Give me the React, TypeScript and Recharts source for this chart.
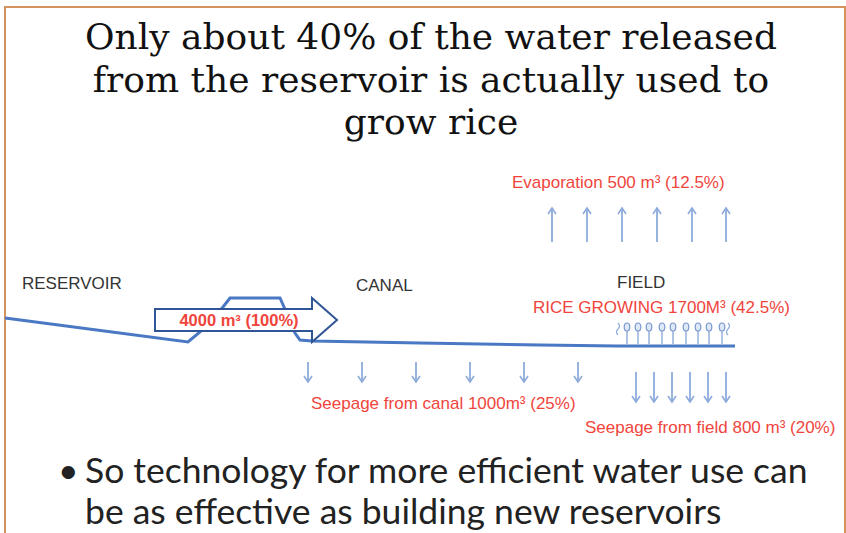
import React from "react";
import {
  ComposedChart,
  XAxis,
  YAxis,
  Line,
  Scatter,
  ReferenceLine,
} from "recharts";

// ground profile: reservoir slope, dam, canal, field
const groundX = [5, 188, 200, 223, 230, 280, 284, 295, 300, 312, 420, 540, 617, 735];
const groundY = [318, 342, 332, 307, 298, 298, 307, 333, 340, 341, 343, 345, 346, 346];

// arrows (x, from y, to y)
const evapX = [552, 587, 622, 657, 692, 726];
const evapFrom = 242;
const evapTo = 208;
const canalX = [308, 362, 416, 470, 524, 578];
const canalFrom = 362;
const canalTo = 382;
const fieldX = [636, 654, 672, 690, 708, 726];
const fieldFrom = 372;
const fieldTo = 402;

// rice plants
const plantX = [618, 627, 638, 649, 662, 673, 686, 698, 709, 722, 728];
const plantTop = 327;
const plantBase = 344;

// flow arrow
const flowArrow = [{ x: 155, y: 320, label: "4000 m³ (100%)" }];

const places = ["RESERVOIR", "CANAL", "FIELD"];
const placeX = [22, 356, 617];
const placeY = [283, 285, 282];

const flows = [
  "Evaporation 500 m³ (12.5%)",
  "RICE GROWING 1700M³ (42.5%)",
  "Seepage from canal 1000m³ (25%)",
  "Seepage from field 800 m³ (20%)",
];
const flowX = [512, 533, 311, 585];
const flowY = [182, 307, 403, 427];

const titleLines = [
  "Only about 40% of the water released",
  "from the reservoir is actually used to",
  "grow rice",
];
const bulletLines = [
  "So technology for more efficient water use can",
  "be as effective as building new reservoirs",
];

const ground = groundX.map((x, i) => ({ x, y: groundY[i] }));
const plants = plantX.map((x, i) => ({
  x,
  y: plantTop,
  base: plantBase,
  end: i === 0 || i === plantX.length - 1,
}));
const placeLabels = places.map((t, i) => ({ x: placeX[i], y: placeY[i], t }));
const flowLabels = flows.map((t, i) => ({ x: flowX[i], y: flowY[i], t }));

const BLUE = "#4a78c4";
const LIGHT = "#8dabda";
const RED = "#f0453c";
const LABEL_FONT = "'Liberation Sans', Arial, sans-serif";

const ArrowShape = (p: any) => {
  const { x1, y1, x2, y2 } = p;
  const d = Math.sign(y2 - y1);
  return (
    <g>
      <line x1={x1} y1={y1} x2={x2} y2={y2} stroke={LIGHT} strokeWidth={1.8} />
      <path
        d={`M${x2 - 4},${y2 - 6 * d} L${x2},${y2} L${x2 + 4},${y2 - 6 * d}`}
        fill="none"
        stroke={LIGHT}
        strokeWidth={1.6}
      />
    </g>
  );
};

const PlantShape = (p: any) => {
  const { cx, cy, payload } = p;
  const h = payload.base - payload.y;
  if (payload.end) {
    return (
      <path
        d={`M${cx},${cy + 8} q-3,-3 0,-6 q3,-3 0,-6`}
        fill="none"
        stroke={LIGHT}
        strokeWidth={1.2}
      />
    );
  }
  return (
    <g>
      <line x1={cx} y1={cy} x2={cx} y2={cy + h} stroke={LIGHT} strokeWidth={1.4} />
      <ellipse cx={cx} cy={cy} rx={2.8} ry={4} fill="#dfe8f6" stroke="#7898cf" strokeWidth={1.2} />
    </g>
  );
};

const BlockArrow = (p: any) => {
  const { cx, cy, payload } = p;
  const x0 = cx;
  const pts = [
    [x0, cy - 11],
    [x0 + 157, cy - 11],
    [x0 + 157, cy - 22],
    [x0 + 182, cy],
    [x0 + 157, cy + 22],
    [x0 + 157, cy + 11],
    [x0, cy + 11],
  ]
    .map((q) => q.join(","))
    .join(" ");
  return (
    <g>
      <polygon points={pts} fill="#fff" stroke="#2f5597" strokeWidth={2} />
      <text
        x={x0 + 84}
        y={cy + 6}
        textAnchor="middle"
        fontFamily={LABEL_FONT}
        fontWeight="bold"
        fontSize={16.5}
        fill={RED}
      >
        {payload.label}
      </text>
    </g>
  );
};

const TextShape = (color: string) => (p: any) => (
  <text x={p.cx} y={p.cy + 6} fontFamily={LABEL_FONT} fontSize={17} fill={color}>
    {p.payload.t}
  </text>
);

export default function App() {
  return (
    <div
      style={{
        position: "absolute",
        left: 0,
        top: 0,
        width: 846,
        height: 533,
        background: "#fff",
        overflow: "hidden",
      }}
    >
      <div
        style={{
          position: "absolute",
          left: 4,
          top: 6,
          width: 838,
          height: 540,
          borderLeft: "2px solid #d4935c",
          borderTop: "2px solid #d4935c",
          borderRight: "2px solid #d4935c",
        }}
      />
      <div
        style={{
          position: "absolute",
          left: 0,
          top: 16,
          width: 862,
          textAlign: "center",
          fontFamily: "'DejaVu Serif', serif",
          fontSize: 36,
          lineHeight: "42.5px",
          color: "#111",
          whiteSpace: "nowrap",
        }}
      >
        {titleLines.map((l) => (
          <div key={l}>{l}</div>
        ))}
      </div>
      <div style={{ position: "absolute", left: 0, top: 0 }}>
        <ComposedChart
          width={846}
          height={533}
          margin={{ top: 0, right: 0, bottom: 0, left: 0 }}
        >
          <XAxis type="number" dataKey="x" domain={[0, 846]} allowDataOverflow hide />
          <YAxis type="number" domain={[0, 533]} allowDataOverflow reversed hide />
          <Line
            data={ground}
            dataKey="y"
            type="linear"
            stroke={BLUE}
            strokeWidth={3}
            dot={false}
            activeDot={false}
            isAnimationActive={false}
          />
          <Scatter data={plants} dataKey="y" shape={PlantShape} isAnimationActive={false} />
          <Scatter data={flowArrow} dataKey="y" shape={BlockArrow} isAnimationActive={false} />
          <Scatter data={placeLabels} dataKey="y" shape={TextShape("#333")} isAnimationActive={false} />
          <Scatter data={flowLabels} dataKey="y" shape={TextShape(RED)} isAnimationActive={false} />
          {evapX.map((x) => (
            <ReferenceLine
              key={"e" + x}
              segment={[{ x, y: evapFrom }, { x, y: evapTo }]}
              shape={ArrowShape}
            />
          ))}
          {canalX.map((x) => (
            <ReferenceLine
              key={"c" + x}
              segment={[{ x, y: canalFrom }, { x, y: canalTo }]}
              shape={ArrowShape}
            />
          ))}
          {fieldX.map((x) => (
            <ReferenceLine
              key={"f" + x}
              segment={[{ x, y: fieldFrom }, { x, y: fieldTo }]}
              shape={ArrowShape}
            />
          ))}
        </ComposedChart>
      </div>
      <div
        style={{
          position: "absolute",
          left: 58,
          top: 449,
          fontFamily: "Lato, 'Open Sans', sans-serif",
          fontSize: 35.5,
          lineHeight: "41px",
          color: "#222",
          whiteSpace: "nowrap",
        }}
      >
        <div>
          <span style={{ display: "inline-block", width: 27 }}>•</span>
          {bulletLines[0]}
        </div>
        <div style={{ paddingLeft: 27 }}>{bulletLines[1]}</div>
      </div>
    </div>
  );
}
